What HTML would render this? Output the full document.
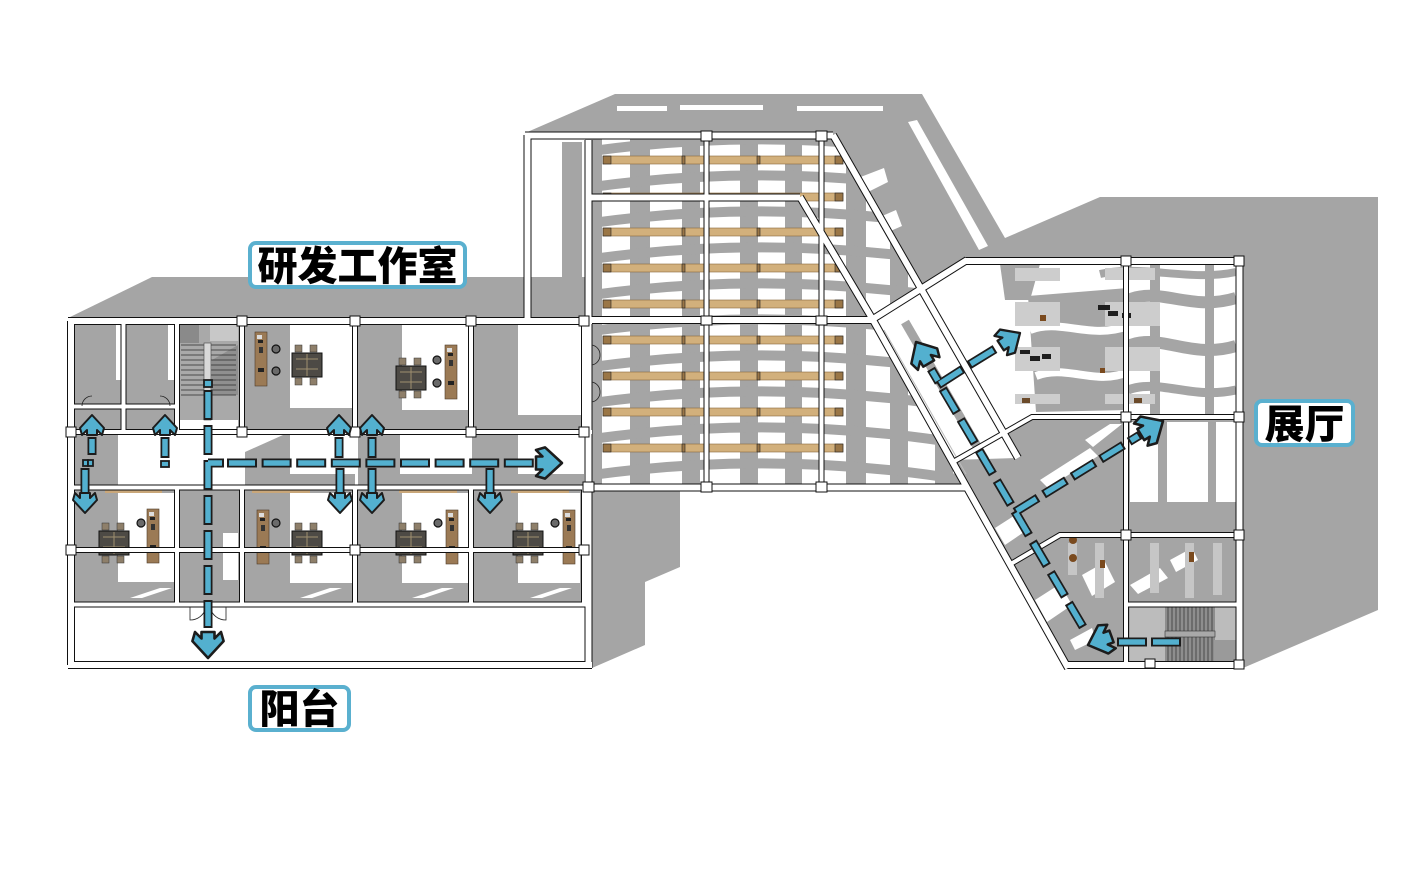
<!DOCTYPE html>
<html><head><meta charset="utf-8"><style>
html,body{margin:0;padding:0;background:#fff;}
svg{display:block;}
</style></head><body>
<svg width="1415" height="894" viewBox="0 0 1415 894" xmlns="http://www.w3.org/2000/svg" xmlns:xlink="http://www.w3.org/1999/xlink">
<defs>
 <polygon id="ah" points="0,0 -13,-12 -20,-10 -15,-5 -20,-5 -20,5 -15,5 -20,10 -13,12" fill="#53b0cf" stroke="#1c1c1c" stroke-width="2" stroke-linejoin="round"/>
 <clipPath id="hallc"><polygon points="592,138 831,138 938,320 873,320 965,485 592,485"/></clipPath>
 <g id="desk"><rect width="12" height="54" fill="#9b7a55" stroke="#4d3b28" stroke-width="0.6"/><rect x="3" y="8" width="5" height="3" fill="#222"/><rect x="4" y="15" width="4" height="6" fill="#333"/><rect x="3" y="36" width="6" height="4" fill="#222"/><rect x="2" y="3" width="5" height="4" fill="#ddd"/></g>
 <g id="tbl"><rect x="3" y="0" width="7" height="7" fill="#8e7f6a" stroke="#333" stroke-width="0.5"/><rect x="18" y="0" width="7" height="7" fill="#8e7f6a" stroke="#333" stroke-width="0.5"/><rect x="0" y="8" width="30" height="24" fill="#4d4a45" stroke="#111" stroke-width="1"/><path d="M4 14 H26 M4 24 H26 M15 9 V31" stroke="#a09070" stroke-width="1"/><rect x="3" y="33" width="7" height="7" fill="#8e7f6a" stroke="#333" stroke-width="0.5"/><rect x="18" y="33" width="7" height="7" fill="#8e7f6a" stroke="#333" stroke-width="0.5"/></g>
 <g id="seat"><circle r="4" fill="#6a6a6a" stroke="#111" stroke-width="1.2"/></g>
</defs>

<rect width="1415" height="894" fill="#fff"/>

<!-- shadows -->
<g fill="#a5a5a5">
 <polygon points="68,318 152,277 592,277 592,318"/>
 <polygon points="525,133 615,94 922,94 1005,238 1100,197 1378,197 1378,610 1243,668 1068,668 965,487 592,487 592,318 525,318"/>
 <polygon points="589,487 680,487 680,567 645,582 645,645 592,668 589,668"/>
</g>
<!-- truss top white bits -->
<g fill="#fff">
 <rect x="617" y="106" width="50" height="5"/><rect x="680" y="105" width="83" height="5"/><rect x="797" y="106" width="86" height="5"/>
 <polygon points="908,122 917,120 988,246 979,250"/>
 <polygon points="858,178 884,168 888,182 864,194"/>
 <polygon points="868,222 896,210 902,226 874,238"/>
</g>

<!-- middle left room -->
<rect x="531" y="138" width="54" height="139" fill="#fff"/>
<rect x="562" y="142" width="20" height="135" fill="#a5a5a5"/>

<!-- middle hall pattern -->
<g clip-path="url(#hallc)">
 <rect x="585" y="130" width="390" height="360" fill="#fff"/>
 <g fill="#a5a5a5">
  <rect x="592" y="130" width="10" height="360"/><rect x="630" y="130" width="20" height="360"/>
  <rect x="682" y="130" width="18" height="360"/><rect x="740" y="130" width="18" height="360"/>
  <rect x="785" y="130" width="17" height="360"/><rect x="846" y="130" width="20" height="360"/>
  <rect x="890" y="130" width="18" height="360"/><rect x="935" y="130" width="18" height="360"/>
 </g>
 <g fill="none" stroke="#a5a5a5" stroke-width="10">
  <path d="M585 152 Q780 124 975 158"/><path d="M585 188 Q780 160 975 194"/>
  <path d="M585 224 Q780 196 975 230"/><path d="M585 260 Q780 232 975 266"/>
  <path d="M585 296 Q780 268 975 302"/><path d="M585 332 Q780 304 975 338"/>
  <path d="M585 368 Q780 340 975 374"/><path d="M585 404 Q780 376 975 410"/>
  <path d="M585 440 Q780 412 975 446"/><path d="M585 476 Q780 448 975 482"/>
 </g>
</g>

<!-- corridor between L1 and L2 -->
<polygon points="873,321 918,290 1018,458 951,460" fill="#fff"/>
<path d="M905 322 L985 460" stroke="#a5a5a5" stroke-width="9"/>
<path d="M884 330 L966 474" stroke="#bdbdbd" stroke-width="1"/>

<!-- right building upper hall -->
<polygon points="967,264 1236,264 1236,414 1032,414 1003,435 918,289" fill="#fff"/>
<g fill="#a5a5a5">
 <polygon points="1028,296 1128,288 1128,410 1036,412"/>
 <rect x="1150" y="264" width="10" height="150"/><rect x="1205" y="264" width="9" height="150"/>
 <polygon points="1000,264 1040,264 1030,300 1005,300"/>
</g>
<g fill="none" stroke="#a5a5a5">
 <path stroke-width="12" d="M1128 300 C1160 286 1190 312 1236 298"/>
 <path stroke-width="12" d="M1128 346 C1160 332 1190 360 1236 346"/>
 <path stroke-width="9" d="M1128 390 C1160 378 1190 400 1236 390"/>
 <path stroke-width="8" d="M1100 274 C1140 264 1190 282 1236 272"/>
</g>
<g fill="none" stroke="#fff" stroke-width="8">
 <path d="M1030 330 C1060 318 1090 340 1128 326"/>
 <path d="M1036 376 C1066 364 1096 386 1128 372"/>
</g>
<g fill="#cdcdcd">
 <rect x="1015" y="268" width="45" height="13"/><rect x="1105" y="268" width="50" height="12"/>
 <rect x="1015" y="302" width="45" height="24"/><rect x="1105" y="302" width="55" height="24"/>
 <rect x="1015" y="347" width="45" height="24"/><rect x="1105" y="347" width="55" height="24"/>
 <rect x="1015" y="394" width="45" height="10"/><rect x="1105" y="394" width="50" height="10"/>
</g>
<g fill="#1e1e1e">
 <rect x="1098" y="305" width="12" height="5"/><rect x="1108" y="311" width="10" height="5"/><rect x="1122" y="313" width="9" height="5"/>
 <rect x="1020" y="350" width="10" height="4"/><rect x="1030" y="356" width="10" height="5"/><rect x="1042" y="354" width="9" height="5"/>
 <rect x="1040" y="315" width="6" height="6" fill="#7a4a1e"/><rect x="1100" y="368" width="5" height="5" fill="#7a4a1e"/>
 <rect x="1022" y="398" width="8" height="5" fill="#6b4a2a"/><rect x="1134" y="398" width="8" height="5" fill="#6b4a2a"/>
</g>

<!-- right building middle/lower -->
<rect x="1130" y="422" width="106" height="80" fill="#fff"/>
<rect x="1158" y="422" width="9" height="80" fill="#a5a5a5"/>
<rect x="1208" y="422" width="8" height="80" fill="#a5a5a5"/>
<g fill="#fff">
 <polygon points="1040,480 1090,448 1098,456 1048,488"/>
 <polygon points="1085,440 1110,424 1122,424 1093,447"/>
 <polygon points="995,528 1020,512 1030,528 1005,545"/>
 <polygon points="1035,600 1060,584 1072,605 1047,622"/>
 <polygon points="1082,575 1105,562 1115,582 1092,596"/>
 <polygon points="1130,585 1160,568 1168,578 1138,594"/>
 <polygon points="1170,560 1192,548 1198,560 1176,572"/>
 <polygon points="1070,640 1092,628 1096,640 1075,650"/>
</g>
<g fill="#c6c6c6">
 <rect x="1068" y="543" width="9" height="32"/><rect x="1095" y="543" width="9" height="55"/>
 <rect x="1150" y="543" width="9" height="50"/><rect x="1185" y="543" width="9" height="55"/><rect x="1213" y="543" width="9" height="52"/>
</g>
<g fill="#7a4a1e"><circle cx="1073" cy="540" r="4"/><circle cx="1073" cy="558" r="4"/><rect x="1100" y="560" width="5" height="8"/><rect x="1189" y="552" width="5" height="10"/></g>
<!-- right stair -->
<rect x="1130" y="607" width="106" height="56" fill="#bcbcbc"/>
<rect x="1165" y="607" width="50" height="56" fill="#8e8e8e"/>
<g stroke="#3a3a3a" stroke-width="0.8">
 <path d="M1168 607V663M1172 607V663M1176 607V663M1180 607V663M1184 607V663M1188 607V663M1192 607V663M1196 607V663M1200 607V663M1204 607V663M1208 607V663M1212 607V663"/>
</g>
<rect x="1165" y="631" width="50" height="6" fill="#a8a8a8" stroke="#333" stroke-width="0.6"/>
<rect x="1214" y="640" width="22" height="22" fill="#9a9a9a"/>

<!-- left building interior -->
<rect x="71" y="321" width="518" height="344" fill="#a5a5a5"/>
<g fill="#fff">
 <rect x="179" y="420" width="59" height="12"/>
 <rect x="290" y="325" width="62" height="83"/>
 <rect x="402" y="325" width="66" height="85"/>
 <rect x="518" y="325" width="64" height="90"/>
 <rect x="116" y="325" width="5" height="55"/><rect x="168" y="325" width="7" height="55"/>
 <rect x="71" y="435" width="518" height="50"/>
 <rect x="118" y="493" width="57" height="89"/>
 <rect x="290" y="493" width="62" height="90"/>
 <rect x="402" y="493" width="66" height="90"/>
 <rect x="518" y="493" width="62" height="90"/>
 <rect x="223" y="533" width="15" height="47"/>
 <rect x="75" y="607" width="514" height="56"/>
</g>
<g fill="#a5a5a5">
 <rect x="75" y="435" width="43" height="50"/>
 <polygon points="245,452 283,435 290,435 290,485 245,485"/>
 <rect x="358" y="435" width="42" height="50"/>
 <rect x="472" y="435" width="46" height="50"/>
 <rect x="290" y="474" width="65" height="11"/><rect x="400" y="474" width="72" height="11"/><rect x="518" y="474" width="66" height="11"/>
</g>
<g fill="#fff">
 <polygon points="130,598 160,588 172,588 142,598"/><polygon points="300,598 330,588 342,588 312,598"/>
 <polygon points="412,598 442,588 454,588 424,598"/><polygon points="530,598 560,588 572,588 542,598"/>
</g>
<!-- left stair -->
<rect x="179" y="325" width="59" height="95" fill="#a9a9a9"/>
<rect x="179" y="325" width="20" height="18" fill="#8a8a8a"/>
<rect x="210" y="325" width="28" height="16" fill="#c8c8c8"/>
<polygon points="212,360 238,345 238,395 212,395" fill="#8f8f8f"/>
<g stroke="#2e2e2e" stroke-width="0.8">
 <path d="M181 345H236M181 350H236M181 355H236M181 360H236M181 365H236M181 370H236M181 375H236M181 380H236M181 385H236M181 390H236M181 395H236"/>
</g>
<rect x="204" y="343" width="7" height="77" fill="#d8d8d8" stroke="#444" stroke-width="0.6"/>

<!-- furniture -->
<g fill="#c9a77a"><rect x="105" y="489" width="57" height="4"/><rect x="252" y="489" width="58" height="4"/><rect x="399" y="489" width="58" height="4"/><rect x="511" y="489" width="58" height="4"/></g>
<use href="#desk" xlink:href="#desk" x="255" y="332"/>
<use href="#tbl" xlink:href="#tbl" x="292" y="345"/>
<use href="#seat" xlink:href="#seat" x="276" y="349"/><use href="#seat" xlink:href="#seat" x="276" y="371"/>
<use href="#tbl" xlink:href="#tbl" x="396" y="358"/>
<use href="#desk" xlink:href="#desk" x="445" y="345"/>
<use href="#seat" xlink:href="#seat" x="437" y="360"/><use href="#seat" xlink:href="#seat" x="437" y="383"/>
<use href="#tbl" xlink:href="#tbl" x="99" y="523"/><use href="#desk" xlink:href="#desk" x="147" y="509"/><use href="#seat" xlink:href="#seat" x="141" y="523"/>
<use href="#desk" xlink:href="#desk" x="257" y="510"/><use href="#tbl" xlink:href="#tbl" x="292" y="523"/><use href="#seat" xlink:href="#seat" x="276" y="523"/>
<use href="#tbl" xlink:href="#tbl" x="396" y="523"/><use href="#desk" xlink:href="#desk" x="446" y="510"/><use href="#seat" xlink:href="#seat" x="438" y="523"/>
<use href="#tbl" xlink:href="#tbl" x="513" y="523"/><use href="#desk" xlink:href="#desk" x="563" y="510"/><use href="#seat" xlink:href="#seat" x="555" y="523"/>

<!-- beams -->
<g id="beams">
 <g fill="#d2b07c" stroke="#8a6a3e" stroke-width="0.6">
  <rect x="603" y="156" width="240" height="8"/><rect x="603" y="193" width="240" height="8"/>
  <rect x="603" y="228" width="240" height="8"/><rect x="603" y="264" width="240" height="8"/>
  <rect x="603" y="300" width="240" height="8"/><rect x="603" y="336" width="240" height="8"/>
  <rect x="603" y="372" width="240" height="8"/><rect x="603" y="408" width="240" height="8"/>
  <rect x="603" y="444" width="240" height="8"/>
 </g>
 <g fill="#9a7646" stroke="#222" stroke-width="0.6">
  <rect x="603" y="156" width="8" height="8"/><rect x="835" y="156" width="8" height="8"/><rect x="682" y="156" width="3" height="8"/><rect x="757" y="156" width="3" height="8"/>
  <rect x="603" y="193" width="8" height="8"/><rect x="835" y="193" width="8" height="8"/>
  <rect x="603" y="228" width="8" height="8"/><rect x="835" y="228" width="8" height="8"/><rect x="682" y="228" width="3" height="8"/><rect x="757" y="228" width="3" height="8"/>
  <rect x="603" y="264" width="8" height="8"/><rect x="835" y="264" width="8" height="8"/><rect x="682" y="264" width="3" height="8"/><rect x="757" y="264" width="3" height="8"/>
  <rect x="603" y="300" width="8" height="8"/><rect x="835" y="300" width="8" height="8"/><rect x="682" y="300" width="3" height="8"/><rect x="757" y="300" width="3" height="8"/>
  <rect x="603" y="336" width="8" height="8"/><rect x="835" y="336" width="8" height="8"/><rect x="682" y="336" width="3" height="8"/><rect x="757" y="336" width="3" height="8"/>
  <rect x="603" y="372" width="8" height="8"/><rect x="835" y="372" width="8" height="8"/><rect x="682" y="372" width="3" height="8"/><rect x="757" y="372" width="3" height="8"/>
  <rect x="603" y="408" width="8" height="8"/><rect x="835" y="408" width="8" height="8"/><rect x="682" y="408" width="3" height="8"/><rect x="757" y="408" width="3" height="8"/>
  <rect x="603" y="444" width="8" height="8"/><rect x="835" y="444" width="8" height="8"/><rect x="682" y="444" width="3" height="8"/><rect x="757" y="444" width="3" height="8"/>
 </g>
</g>

<!-- walls -->
<g id="wo" fill="none">
 <path d="M68 321 H592"/><path d="M71 321 V665"/><path d="M68 665 H592"/><path d="M588.5 140 V668"/>
 <path d="M525 135.5 H833"/><path d="M527.5 135 V321"/>
 <path d="M833 135 L1018 458"/>
 <path d="M800 197 L873 320 L1068 668"/>
 <path d="M873 319 L967 260"/>
 <path d="M965 261 H1240"/><path d="M1239.5 258 V668"/><path d="M1066 665 H1243"/>
 <path d="M588 487.5 H965"/><path d="M588 197.5 H800"/><path d="M588 320 H873"/>
</g>
<g id="wi" fill="none">
 <path d="M123.5 321 V432"/><path d="M177 321 V432"/><path d="M242 321 V432"/><path d="M355 321 V432"/><path d="M471 321 V432"/><path d="M584 321 V432"/>
 <path d="M71 406.5 H177"/><path d="M71 432 H592"/><path d="M71 487.5 H592"/>
 <path d="M177 487 V605"/><path d="M242 487 V605"/><path d="M355 487 V605"/><path d="M471 487 V605"/><path d="M584 487 V605"/>
 <path d="M71 550 H589"/><path d="M71 604.5 H589"/>
 <path d="M706.5 135 V487"/><path d="M821.5 135 V487"/>
 <path d="M1126 261 V668"/><path d="M953 462 L1032 417 H1240"/><path d="M1009 565 L1060 535 H1240"/><path d="M1126 604.5 H1240"/>
</g>
<use href="#wo" xlink:href="#wo" stroke="#111" stroke-width="8"/>
<use href="#wi" xlink:href="#wi" stroke="#111" stroke-width="6"/>
<use href="#wo" xlink:href="#wo" stroke="#fff" stroke-width="6"/>
<use href="#wi" xlink:href="#wi" stroke="#fff" stroke-width="4"/>
<!-- wall detail lines -->
<g stroke="#222" stroke-width="0.8" fill="none">
 <path d="M82 406 A10 10 0 0 1 92 396"/><path d="M170 406 A10 10 0 0 0 160 396"/>
 <path d="M190 607 V620 A16 16 0 0 0 206 607"/><path d="M226 607 V620 A16 16 0 0 1 210 607"/>
 <path d="M592 345 A10 10 0 0 1 600 355 A10 10 0 0 1 592 365"/><path d="M592 382 A10 10 0 0 1 600 392 A10 10 0 0 1 592 402"/>
</g>
<!-- column squares -->
<g fill="#fff" stroke="#111" stroke-width="1">
 <rect x="237" y="316" width="10" height="10"/><rect x="350" y="316" width="10" height="10"/><rect x="466" y="316" width="10" height="10"/><rect x="579" y="316" width="10" height="10"/>
 <rect x="237" y="427" width="10" height="10"/><rect x="350" y="427" width="10" height="10"/><rect x="466" y="427" width="10" height="10"/><rect x="579" y="427" width="10" height="10"/><rect x="66" y="427" width="10" height="10"/>
 <rect x="66" y="545" width="10" height="10"/><rect x="350" y="545" width="10" height="10"/><rect x="579" y="545" width="10" height="10"/>
 <rect x="701" y="131" width="11" height="10"/><rect x="816" y="131" width="11" height="10"/>
 <rect x="701" y="316" width="11" height="9"/><rect x="816" y="316" width="11" height="9"/>
 <rect x="701" y="482" width="11" height="10"/><rect x="816" y="482" width="11" height="10"/><rect x="583" y="482" width="11" height="10"/>
 <rect x="1121" y="256" width="10" height="10"/><rect x="1234" y="256" width="10" height="10"/>
 <rect x="1121" y="412" width="10" height="10"/><rect x="1234" y="412" width="10" height="10"/>
 <rect x="1121" y="530" width="10" height="10"/><rect x="1234" y="530" width="10" height="10"/>
 <rect x="1234" y="660" width="10" height="9"/><rect x="1145" y="659" width="10" height="9"/>
</g>

<!-- arrows: black layer -->
<g fill="none" stroke="#1c1c1c" stroke-width="9">
 <path d="M208 390 V628" stroke-dasharray="30 5"/>
 <path d="M208 463 H224"/>
 <path d="M227 463 H534" stroke-dasharray="30 4.6"/>
 <path d="M92 437 V455"/><path d="M85 468 V492"/>
 <path d="M165 437 V458"/>
 <path d="M339 437 V458"/><path d="M340 468 V492"/>
 <path d="M372 437 V458"/><path d="M372 468 V492"/>
 <path d="M490 468 V492"/>
 <path d="M1117 642 H1181" stroke-dasharray="30 4"/>
 <path d="M1083 627 L931 369" stroke-dasharray="28 7.5"/>
 <path d="M938 385 L963 369 M969 365 L995 349"/>
 <path d="M1015 512 L1140 435" stroke-dasharray="27 6.5"/>
</g>
<g fill="#53b0cf" stroke="#1c1c1c" stroke-width="1.8">
 <rect x="204" y="380" width="8" height="7"/>
 <rect x="83" y="460" width="5" height="6"/><rect x="88" y="460" width="5" height="6"/>
 <rect x="161" y="461" width="8" height="6"/>
</g>
<!-- arrows: blue layer -->
<g fill="none" stroke="#53b0cf" stroke-width="5.5">
 <path d="M208 390 V626" stroke-dasharray="26 9" stroke-dashoffset="-2"/>
 <path d="M208 463 H222"/>
 <path d="M227 463 H532" stroke-dasharray="26 8.6" stroke-dashoffset="-2"/>
 <path d="M92 439 V453"/><path d="M85 470 V492"/>
 <path d="M165 439 V456"/>
 <path d="M339 439 V456"/><path d="M340 470 V492"/>
 <path d="M372 439 V456"/><path d="M372 470 V492"/>
 <path d="M490 470 V492"/>
 <path d="M1117 642 H1179" stroke-dasharray="26 8" stroke-dashoffset="-2"/>
 <path d="M1083 627 L932 370.7" stroke-dasharray="24 11.5" stroke-dashoffset="-2"/>
 <path d="M939.7 383.9 L961.3 370.1 M970.7 363.9 L993.3 350.1"/>
 <path d="M1015 512 L1138.3 436" stroke-dasharray="23 10.5" stroke-dashoffset="-2"/>
</g>
<!-- arrowheads -->
<use href="#ah" xlink:href="#ah" transform="translate(562,463) scale(1.3)"/>
<use href="#ah" xlink:href="#ah" transform="translate(208,658) rotate(90) scale(1.3)"/>
<use href="#ah" xlink:href="#ah" transform="translate(92,415) rotate(-90)"/>
<use href="#ah" xlink:href="#ah" transform="translate(165,415) rotate(-90)"/>
<use href="#ah" xlink:href="#ah" transform="translate(339,415) rotate(-90)"/>
<use href="#ah" xlink:href="#ah" transform="translate(372,415) rotate(-90)"/>
<use href="#ah" xlink:href="#ah" transform="translate(85,513) rotate(90)"/>
<use href="#ah" xlink:href="#ah" transform="translate(340,513) rotate(90)"/>
<use href="#ah" xlink:href="#ah" transform="translate(372,513) rotate(90)"/>
<use href="#ah" xlink:href="#ah" transform="translate(490,513) rotate(90)"/>
<use href="#ah" xlink:href="#ah" transform="translate(1088,645) rotate(160) scale(1.25)"/>
<use href="#ah" xlink:href="#ah" transform="translate(916,342) rotate(-120.5) scale(1.25)"/>
<use href="#ah" xlink:href="#ah" transform="translate(1020,333) rotate(-33) scale(1.15)"/>
<use href="#ah" xlink:href="#ah" transform="translate(1163,421) rotate(-31.5) scale(1.3)"/>

<!-- labels -->
<g fill="#fff" stroke="#5ab0cf" stroke-width="4">
 <rect x="250" y="243" width="215" height="44" rx="6"/>
 <rect x="250" y="687" width="99" height="43" rx="6"/>
 <rect x="1256" y="401" width="97" height="44" rx="6"/>
</g>
<g font-family="'Liberation Sans','Noto Sans CJK SC','WenQuanYi Zen Hei',sans-serif" font-weight="900" font-size="40" text-anchor="middle" fill="#000">
 <text x="357.5" y="280">研发工作室</text>
 <text x="299.5" y="723">阳台</text>
 <text x="1304.5" y="438">展厅</text>
</g>
</svg>
</body></html>
